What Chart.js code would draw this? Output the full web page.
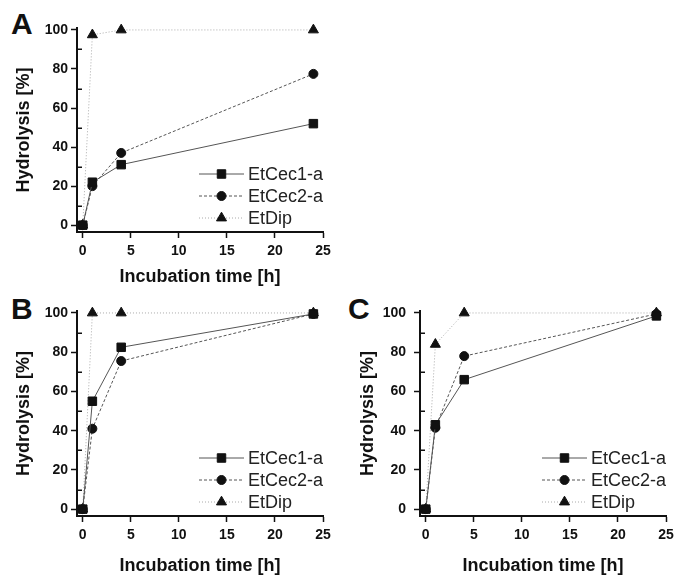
<!DOCTYPE html>
<html>
<head>
<meta charset="utf-8">
<script src="https://cdn.jsdelivr.net/npm/chart.js"></script>
<style>
  body { margin: 0; background: #fff; width: 676px; height: 575px; position: relative; overflow: hidden; }
  canvas { position: absolute; }
  .panel-label { position: absolute; font: bold 30px "Liberation Sans", Arial, sans-serif; line-height: 30px; color: #111; }
</style>
</head>
<body>
<div class="panel-label" style="left:11px; top:9px">A</div>
<div class="panel-label" style="left:11px; top:294px">B</div>
<div class="panel-label" style="left:348px; top:294px">C</div>
<canvas id="chartA" width="340" height="290" style="left:0; top:0"></canvas>
<canvas id="chartB" width="340" height="290" style="left:0; top:285px"></canvas>
<canvas id="chartC" width="340" height="290" style="left:336px; top:285px"></canvas>
<script>
// tiempos de incubación (h) y etiquetas
const times = [0, 1, 4, 24];
const seriesNames = ['EtCec1-a', 'EtCec2-a', 'EtDip'];
const xTicks = [0, 5, 10, 15, 20, 25];
const yTicks = [0, 20, 40, 60, 80, 100];
const yMinorTicks = [10, 30, 50, 70, 90];

// panel A
const cec1A = [0, 22, 31, 52];
const cec2A = [0, 20, 37, 77.5];
const dipA = [0, 97.5, 100, 100];
// panel B
const cec1B = [0, 55, 82.5, 99.5];
const cec2B = [0, 41, 75.5, 99.5];
const dipB = [0, 100, 100, 100];
// panel C
const cec1C = [0, 43, 66, 98.5];
const cec2C = [0, 41.5, 78, 99.5];
const dipC = [0, 84, 100, 100];

const FONT = '"Liberation Sans", Arial, sans-serif';
const seriesStyle = [
  { line: '#555', dash: [], point: 'rect', radius: 6 },
  { line: '#555', dash: [3, 2], point: 'circle', radius: 4.5 },
  { line: '#aaa', dash: [1, 2], point: 'triangle', radius: 5.8 }
];
const legendRowOffsets = [58, 36, 14];

// leyenda con línea + marcador, como en la figura original
const lineLegend = {
  id: 'lineLegend',
  afterDraw(chart) {
    const { ctx, chartArea } = chart;
    const textX = chartArea.right - 75;
    chart.data.datasets.forEach((ds, i) => {
      const y = chartArea.bottom - legendRowOffsets[i];
      ctx.save();
      ctx.strokeStyle = ds.borderColor;
      ctx.lineWidth = 1;
      ctx.setLineDash(ds.borderDash);
      ctx.beginPath();
      ctx.moveTo(textX - 49, y);
      ctx.lineTo(textX - 4, y);
      ctx.stroke();
      ctx.setLineDash([]);
      ctx.fillStyle = '#111';
      ctx.strokeStyle = '#111';
      Chart.helpers.drawPoint(ctx, { pointStyle: ds.pointStyle, radius: ds.pointRadius, borderWidth: 1, rotation: 0 }, textX - 26.5, y);
      ctx.fillStyle = '#222';
      ctx.font = '18px ' + FONT;
      ctx.textBaseline = 'middle';
      ctx.textAlign = 'left';
      ctx.fillText(ds.label, textX, y + 1);
      ctx.restore();
    });
  }
};

// marcas menores hacia dentro en el eje Y
const minorTicks = {
  id: 'minorTicks',
  afterDraw(chart) {
    const { ctx, chartArea, scales } = chart;
    ctx.save();
    ctx.strokeStyle = '#111';
    ctx.lineWidth = 1.5;
    yMinorTicks.forEach(v => {
      const y = Math.round(scales.y.getPixelForValue(v)) + 0.25;
      ctx.beginPath();
      ctx.moveTo(chartArea.left, y);
      ctx.lineTo(chartArea.left + 5, y);
      ctx.stroke();
    });
    ctx.restore();
  }
};

function makePanel(id, values, geo) {
  const canvas = document.getElementById(id);
  const datasets = values.map((vals, i) => ({
    label: seriesNames[i],
    data: times.map((t, j) => ({ x: t, y: vals[j] })),
    borderColor: seriesStyle[i].line,
    borderWidth: 1,
    borderDash: seriesStyle[i].dash,
    pointStyle: seriesStyle[i].point,
    pointRadius: seriesStyle[i].radius,
    pointBackgroundColor: '#111',
    pointBorderColor: '#111',
    pointBorderWidth: 1,
    fill: false,
    tension: 0,
    clip: false
  }));

  return new Chart(canvas.getContext('2d'), {
    type: 'line',
    data: { datasets },
    options: {
      responsive: false,
      animation: false,
      devicePixelRatio: 1,
      layout: { padding: { left: 0, top: geo.top, right: canvas.width - geo.right, bottom: 0 } },
      plugins: { legend: { display: false }, tooltip: { enabled: false } },
      scales: {
        x: {
          type: 'linear',
          min: -0.6,
          max: 25,
          afterBuildTicks: s => { s.ticks = xTicks.map(v => ({ value: v })); },
          afterFit: s => { s.height = canvas.height - geo.bottom; s.paddingLeft = 0; s.paddingRight = 0; },
          grid: { drawOnChartArea: false, tickLength: 6, tickColor: '#111', tickWidth: 1.5 },
          border: { color: '#111', width: 2 },
          ticks: { color: '#111', padding: 5, maxRotation: 0, font: { family: FONT, size: 14, weight: 'bold' } },
          title: {
            display: true, text: 'Incubation time [h]', color: '#111',
            font: { family: FONT, size: 18, weight: 'bold' },
            padding: { top: 0, bottom: geo.xTitlePad }
          }
        },
        y: {
          type: 'linear',
          min: -3.5,
          max: 101,
          afterBuildTicks: s => { s.ticks = yTicks.map(v => ({ value: v })); },
          afterFit: s => { s.width = geo.left; s.paddingTop = 0; s.paddingBottom = 0; },
          grid: { drawOnChartArea: false, tickLength: 6, tickColor: '#111', tickWidth: 1.5 },
          border: { color: '#111', width: 2 },
          ticks: { color: '#111', padding: geo.yTickPad, font: { family: FONT, size: 14, weight: 'bold' } },
          title: {
            display: true, text: 'Hydrolysis [%]', color: '#111',
            font: { family: FONT, size: 18, weight: 'bold' },
            padding: { top: geo.yTitlePad, bottom: 0 }
          }
        }
      }
    },
    plugins: [minorTicks, lineLegend]
  });
}

makePanel('chartA', [cec1A, cec2A, dipA], { left: 77, right: 323, top: 28, bottom: 232, xTitlePad: 2, yTitlePad: 13, yTickPad: 3 });
makePanel('chartB', [cec1B, cec2B, dipB], { left: 77, right: 323, top: 26, bottom: 231, xTitlePad: -2, yTitlePad: 13, yTickPad: 3 });
makePanel('chartC', [cec1C, cec2C, dipC], { left: 84, right: 330, top: 26, bottom: 231, xTitlePad: -2, yTitlePad: 21, yTickPad: 8 });
</script>
</body>
</html>
